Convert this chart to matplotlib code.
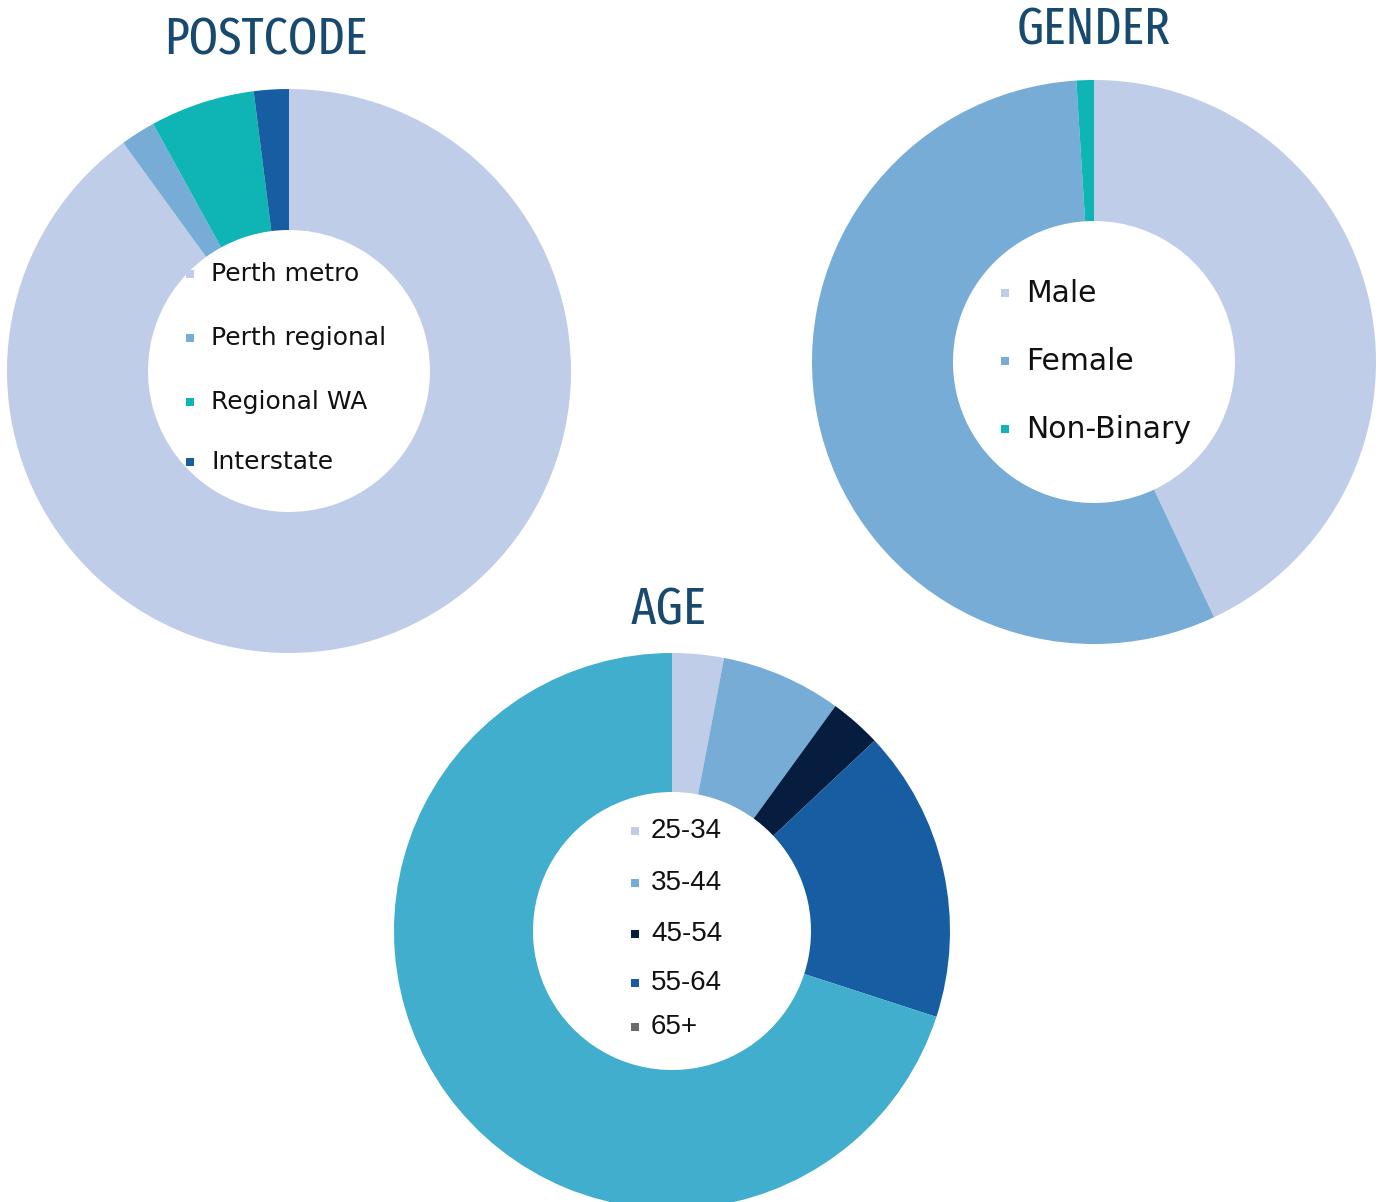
import matplotlib.pyplot as plt
from matplotlib import font_manager
from matplotlib.font_manager import FontProperties

W, H = 1384, 1202

# data (percent)
postcode_labels = ["Perth metro", "Perth regional", "Regional WA", "Interstate"]
postcode_values = [90, 2, 6, 2]
postcode_colors = ["#bfcde9", "#77acd6", "#0fb5b5", "#165ea1"]

gender_labels = ["Male", "Female", "Non-Binary"]
gender_values = [43, 56, 1]
gender_colors = ["#bfcde9", "#77acd6", "#0fb5b5"]

age_labels = ["25-34", "35-44", "45-54", "55-64", "65+"]
age_values = [3, 7, 3, 17, 70]
age_colors = ["#bfcde9", "#77acd6", "#061d40", "#165ea1", "#41aecd"]
age_legend_colors = ["#bfcde9", "#77acd6", "#061d40", "#165ea1", "#676b6b"]

titles = ["POSTCODE", "GENDER", "AGE"]
title_color = "#174a6e"


# pick the narrowest installed face for the titles
def narrow_score(f):
    n = (f.name + " " + f.fname).lower().replace(" ", "").replace("-", "")
    if "extracondensed" in n or "ultracondensed" in n:
        s = 0
    elif "semicondensed" in n:
        s = 3
    elif "condensed" in n:
        s = 1
    elif "narrow" in n:
        s = 2
    else:
        return None
    if "italic" in n or "oblique" in n:
        return None
    w = f.weight if isinstance(f.weight, int) else 400
    return (s, abs(w - 430))


cands = [(narrow_score(f), f) for f in font_manager.fontManager.ttflist]
cands = [c for c in cands if c[0] is not None]
if cands:
    cands.sort(key=lambda c: c[0])
    title_prop = FontProperties(fname=cands[0][1].fname)
else:
    title_prop = FontProperties(family="Lato", weight="bold")

fig = plt.figure(figsize=(W / 100, H / 100), dpi=100)
ax = fig.add_axes([0, 0, 1, 1])


def donut(values, colors, cx, cy, r, w):
    ax.pie(values, colors=colors, center=(cx, H - cy), radius=r,
           startangle=90, counterclock=False,
           wedgeprops=dict(width=w, linewidth=0))


def legend(labels, colors, x, ys, size, family, gap):
    for lab, col, y in zip(labels, colors, ys):
        ax.scatter([x], [H - y], marker="s", s=40, color=col, linewidths=0, zorder=5)
        ax.text(x + gap, H - y, lab, fontsize=size, family=family,
                va="center", ha="left", color="#111111")


donut(postcode_values, postcode_colors, 289, 371, 282, 141)
donut(gender_values, gender_colors, 1094, 362, 282, 141)
donut(age_values, age_colors, 672, 931, 278, 139)

legend(postcode_labels, postcode_colors, 190, [274, 338, 402, 462], 18, "DejaVu Sans", 21)
legend(gender_labels, gender_colors, 1005, [293, 361, 429], 21.5, "DejaVu Sans", 21)
legend(age_labels, age_legend_colors, 635, [831, 883, 934, 983, 1027], 20, "Liberation Sans", 16)

# titles: size them so their width roughly matches the reference
title_pos = [(266, 40, 188), (1094, 30, 143), (669, 610, 70)]
renderer = fig.canvas.get_renderer()
for txt, (x, y, width) in zip(titles, title_pos):
    t = ax.text(x, H - y, txt, fontproperties=title_prop, fontsize=40,
                color=title_color, ha="center", va="center")
    w_now = t.get_window_extent(renderer).width
    t.set_fontsize(40 * width * 1.08 / w_now)

ax.set_xlim(0, W)
ax.set_ylim(0, H)
ax.set_aspect("equal")
ax.set_axis_off()

fig.savefig("out.png", dpi=100, facecolor="white")
